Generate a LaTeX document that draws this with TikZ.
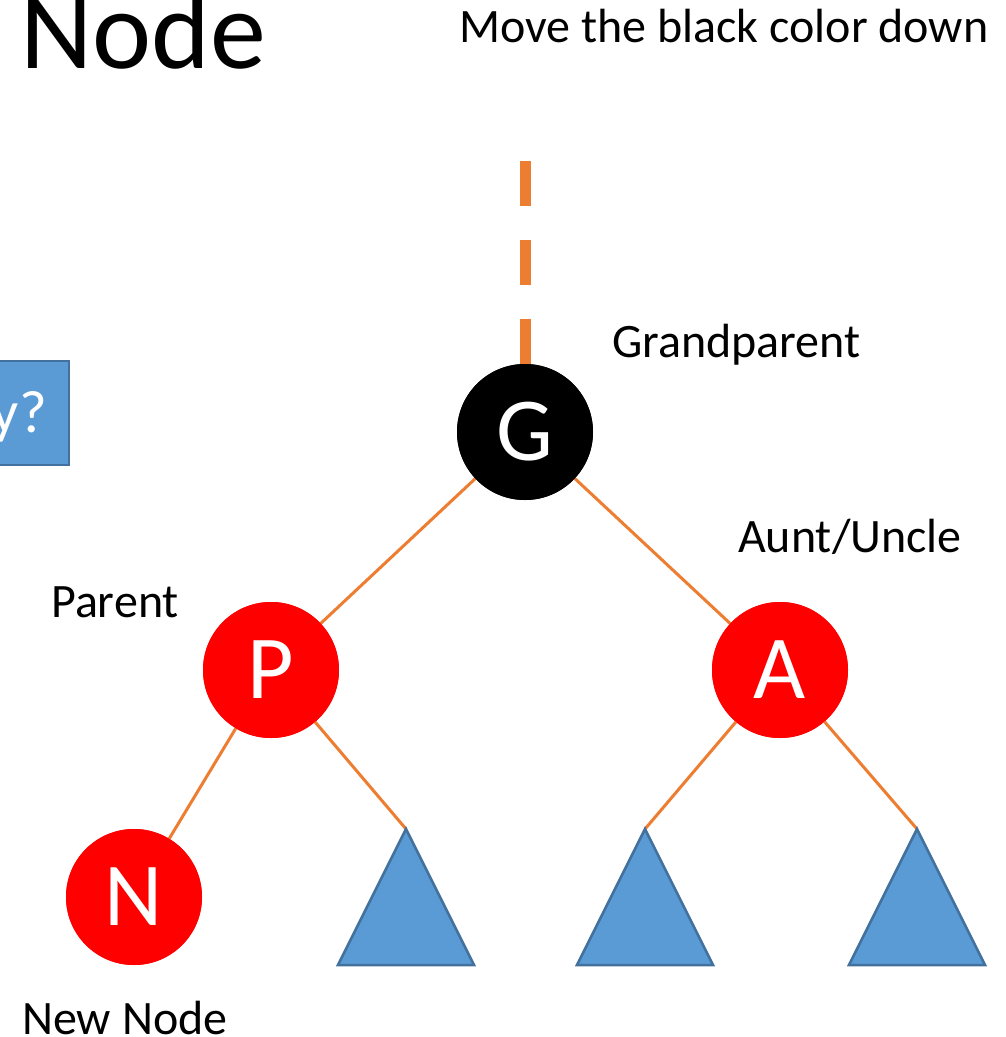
\documentclass[tikz,border=0pt]{standalone}
\usepackage{fontspec}
\setmainfont{Carlito}
\usetikzlibrary{calc}
\definecolor{edgeorange}{HTML}{ED7D31}
\definecolor{subfill}{HTML}{5B9BD5}
\definecolor{subline}{HTML}{41719C}
\definecolor{rbred}{HTML}{FF0000}
\newcommand{\fs}[1]{\fontsize{#1}{#1}\selectfont}
\begin{document}
\begin{tikzpicture}[x=1pt,y=-1pt,
  treenode/.style={circle,minimum size=136pt,inner sep=0pt,text=white,font=\fs{90}},
  rednode/.style={treenode,fill=rbred},
  blacknode/.style={treenode,fill=black},
  label/.style={anchor=base west,inner sep=0pt,font=\fs{48}},
  link/.style={draw=edgeorange,line width=3pt},
  subtree/.style={fill=subfill,draw=subline,line width=2.5pt,line join=miter}]
\useasboundingbox (0,0) rectangle (1006,1037);
\clip (0,0) rectangle (1006,1037);

% titles
\node[anchor=base west,inner sep=0pt,font=\fs{112}] (title) at (20,68) {Node};
\node[label] (hint) at (459,42) {Move the black color down};

% partly hidden box on the left edge
\node[fill=subfill,draw=subline,line width=2pt,minimum width=110pt,minimum height=104pt,inner sep=0pt] (qbox) at (14,413) {};
\node[anchor=base east,inner sep=0pt,text=white,font=\fs{60}] (qtext) at (47,432) {y?};

% tree nodes
\node[blacknode] (G) at (525,432) {G};
\node[rednode] (P) at (271,670) {P};
\node[rednode] (A) at (780,670) {A};
\node[rednode] (N) at (134,897) {N};

% subtree apexes
\coordinate (T1) at (406,829);
\coordinate (T2) at (645,829);
\coordinate (T3) at (917,829);
\coordinate (up) at (525,161);

% connectors
\draw[draw=edgeorange,line width=11pt,dash pattern=on 45pt off 34pt] (up) -- (G.north);
\draw[link] (G) -- (P);
\draw[link] (G) -- (A);
\draw[link] (P) -- (N);
\draw[link] (P) -- (T1);
\draw[link] (A) -- (T2);
\draw[link] (A) -- (T3);

% subtrees
\draw[subtree] (T1) -- ($(T1)+(68,136)$) -- ($(T1)+(-68,136)$) -- cycle;
\draw[subtree] (T2) -- ($(T2)+(68,136)$) -- ($(T2)+(-68,136)$) -- cycle;
\draw[subtree] (T3) -- ($(T3)+(68,136)$) -- ($(T3)+(-68,136)$) -- cycle;

% redraw nodes above the connectors
\node[blacknode] at (G) {G};
\node[rednode] at (P) {P};
\node[rednode] at (A) {A};
\node[rednode] at (N) {N};

% labels
\node[label] (lg) at (612,357) {Grandparent};
\node[label] (la) at (738,552) {Aunt/Uncle};
\node[label] (lp) at (51,617) {Parent};
\node[label] (ln) at (22,1034) {New Node};
\end{tikzpicture}
\end{document}
